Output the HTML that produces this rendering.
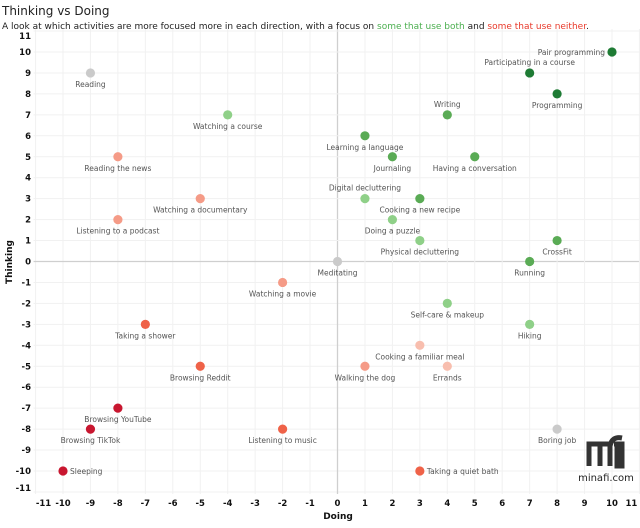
<!DOCTYPE html>
<html><head><meta charset="utf-8"><style>
body{margin:0;background:#fff;font-family:"DejaVu Sans","Liberation Sans",sans-serif;}
svg text{font-family:"DejaVu Sans","Liberation Sans",sans-serif;}
</style></head><body>
<svg id="c" width="640" height="524">
<text x="2" y="15" font-size="12" fill="#222">Thinking vs Doing</text>
<text x="2" y="29" font-size="9" fill="#222">A look at which activities are more focused more in each direction, with a focus on <tspan fill="#4caf50">some that use both</tspan> and <tspan fill="#e8392a">some that use neither</tspan>.</text>
<g id="grid"></g><g id="pts"></g>
<text x="338" y="519" font-size="9" font-weight="bold" text-anchor="middle" fill="#111">Doing</text>
<text transform="translate(12,262) rotate(-90)" font-size="9" font-weight="bold" text-anchor="middle" fill="#111">Thinking</text>
<g>
<path d="M589 466 V444 H610 V466 M600 444 V466 M610 446 Q612 436 622 438 M617 444 V466 H622 V444 H614" stroke="#333" stroke-width="5" fill="none"/>
<text x="606" y="481" font-size="10" text-anchor="middle" fill="#222">minafi.com</text>
</g>
</svg>
<script>
const names=["Pair programming","Participating in a course","Programming","Reading","Watching a course","Writing","Learning a language","Journaling","Having a conversation","Reading the news","Digital decluttering","Cooking a new recipe","Watching a documentary","Listening to a podcast","Doing a puzzle","Physical decluttering","CrossFit","Running","Meditating","Watching a movie","Self-care & makeup","Taking a shower","Hiking","Cooking a familiar meal","Browsing Reddit","Walking the dog","Errands","Browsing YouTube","Browsing TikTok","Listening to music","Boring job","Sleeping","Taking a quiet bath"];
const doing=[10,7,8,-9,-4,4,1,2,5,-8,1,3,-5,-8,2,3,8,7,0,-2,4,-7,7,3,-5,1,4,-8,-9,-2,8,-10,3];
const thinking=[10,9,8,9,7,7,6,5,5,5,3,3,3,2,2,1,1,0,0,-1,-2,-3,-3,-4,-5,-5,-5,-7,-8,-8,-8,-10,-10];
const colorKeys=["g3","g3","g3","n","g1","g2","g2","g2","g2","r1","g1","g2","r1","r1","g1","g1","g2","g2","n","r1","g1","r2","g1","r0","r2","r1","r0","r3","r3","r2","n","r3","r2"];
const labelPos=["left","above","below","below","below","above","below","below","below","below","above","below","below","below","below","below","below","below","below","below","below","below","below","below","below","below","below","below","below","below","below","right","right"];
const ticks=[-11,-10,-9,-8,-7,-6,-5,-4,-3,-2,-1,0,1,2,3,4,5,6,7,8,9,10,11];
const palette={g3:"#1e7b34",g2:"#5aab55",g1:"#8fd088",n:"#cacaca",r0:"#f8beae",r1:"#f59b87",r2:"#ef6248",r3:"#c8162f"};
const X=v=>337.5+v*27.45, Y=v=>261.5-v*20.95;
const NS="http://www.w3.org/2000/svg";
const grid=document.getElementById('grid'), pts=document.getElementById('pts');
function mk(tag,attrs,parent){const e=document.createElementNS(NS,tag);for(const k in attrs)e.setAttribute(k,attrs[k]);parent.appendChild(e);return e;}
ticks.forEach(t=>{
  const gv=mk('line',{x1:X(t),x2:X(t),y1:Y(11)-2,y2:Y(-11)+2,stroke:t===0?'#cfcfcf':'#f1f1f1','stroke-width':t===0?1.3:1},grid);
  
  
  const gh=mk('line',{x1:X(-11)-2,x2:X(11)+2,y1:Y(t),y2:Y(t),stroke:t===0?'#cfcfcf':'#f1f1f1','stroke-width':t===0?1.3:1},grid);
  
  
  const nx=t===-11?8:(t===11?-8:0);
  const ny=t===11?5:(t===-11?-4:0);
  const tx=mk('text',{x:X(t)+nx,y:506,'font-size':8.5,'font-weight':'bold','text-anchor':'middle',fill:'#111'},grid);
  tx.textContent=t;
  
  
  const ty=mk('text',{x:31,y:Y(t)+3+ny,'font-size':8.5,'font-weight':'bold','text-anchor':'end',fill:'#111'},grid);
  ty.textContent=t;
  
  
});
names.forEach((n,i)=>{
  const cx=X(doing[i]),cy=Y(thinking[i]);
  const c=mk('circle',{cx:cx,cy:cy,r:4.6,fill:palette[colorKeys[i]]},pts);
  
  
  let lx=cx,ly=cy+14,anc='middle';
  if(labelPos[i]==='above'){ly=cy-8;}
  if(labelPos[i]==='left'){lx=cx-7;ly=cy+3;anc='end';}
  if(labelPos[i]==='right'){lx=cx+7;ly=cy+3;anc='start';}
  const t=mk('text',{x:lx,y:ly,'font-size':7.5,'text-anchor':anc,fill:'#555'},pts);
  t.textContent=n;
  
  
});
</script>
</body></html>
